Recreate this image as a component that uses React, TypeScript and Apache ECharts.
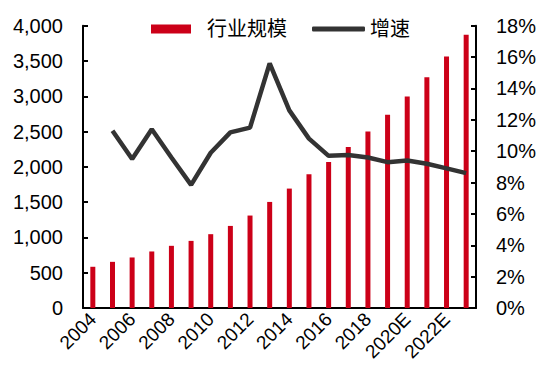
import React, { useEffect, useRef } from "react";
import * as echarts from "echarts";

const years = ["2004", "2005", "2006", "2007", "2008", "2009", "2010", "2011", "2012", "2013", "2014", "2015", "2016", "2017", "2018", "2019", "2020E", "2021E", "2022E", "2023E"];
const scaleValues = [584, 654, 716, 801, 881, 951, 1046, 1163, 1310, 1503, 1692, 1894, 2068, 2280, 2502, 2738, 2996, 3270, 3562, 3873];
const growthValues = [null, 11.3, 9.5, 11.4, 9.6, 7.85, 9.9, 11.2, 11.5, 15.6, 12.6, 10.8, 9.7, 9.75, 9.6, 9.3, 9.4, 9.2, 8.9, 8.6];

const FONT = "'Liberation Sans', Arial, 'Noto Sans CJK SC', sans-serif";
const RED = "#CC0018";
const LINE = "#333333";

export default function App() {
  const ref = useRef<HTMLDivElement>(null);
  useEffect(() => {
    if (!ref.current) return;
    const chart = echarts.init(ref.current, null, { renderer: "svg" });
    chart.setOption({
      animation: false,
      backgroundColor: "#ffffff",
      textStyle: { fontFamily: FONT },
      grid: { left: 83, right: 72, top: 25.7, bottom: 69, containLabel: false },
      legend: [
        {
          data: ["行业规模"],
          left: 151,
          top: 19,
          padding: 0,
          itemWidth: 40,
          itemHeight: 9,
          icon: "rect",
          textStyle: { fontSize: 20, color: "#000", fontFamily: FONT, padding: [0, 0, 0, 11] },
        },
        {
          data: [{ name: "增速", icon: "roundRect" }],
          left: 312,
          top: 19,
          padding: 0,
          itemWidth: 53,
          itemHeight: 5,
          itemStyle: { color: LINE },
          textStyle: { fontSize: 20, color: "#000", fontFamily: FONT },
        },
      ],
      xAxis: {
        type: "category",
        data: years,
        boundaryGap: true,
        axisLine: { show: true, lineStyle: { color: "#000", width: 2 } },
        axisTick: { show: false },
        axisLabel: { interval: 1, rotate: 45, margin: 8, fontSize: 19, color: "#000", fontFamily: FONT },
      },
      yAxis: [
        {
          type: "value",
          min: 0,
          max: 4000,
          interval: 500,
          axisLine: { show: true, lineStyle: { color: "#000", width: 2 } },
          axisTick: { show: true, inside: true, length: 5, lineStyle: { color: "#000", width: 2 } },
          splitLine: { show: false },
          axisLabel: {
            margin: 20,
            fontSize: 20,
            color: "#000",
            fontFamily: FONT,
            formatter: (v: number) => v.toLocaleString("en-US"),
          },
        },
        {
          type: "value",
          min: 0,
          max: 18,
          interval: 2,
          position: "right",
          axisLine: { show: true, lineStyle: { color: "#000", width: 2 } },
          axisTick: { show: true, inside: true, length: 5, lineStyle: { color: "#000", width: 2 } },
          splitLine: { show: false },
          axisLabel: { margin: 20, fontSize: 20, color: "#000", fontFamily: FONT, formatter: "{value}%" },
        },
      ],
      series: [
        {
          name: "行业规模",
          type: "bar",
          data: scaleValues,
          barWidth: 5,
          itemStyle: { color: RED },
          yAxisIndex: 0,
        },
        {
          name: "增速",
          type: "line",
          data: growthValues,
          yAxisIndex: 1,
          symbol: "none",
          connectNulls: false,
          lineStyle: { color: LINE, width: 4.5 },
          itemStyle: { color: LINE },
        },
      ],
    });
    return () => chart.dispose();
  }, []);
  return <div ref={ref} style={{ position: "fixed", left: 0, top: 0, width: 548, height: 377 }} />;
}
